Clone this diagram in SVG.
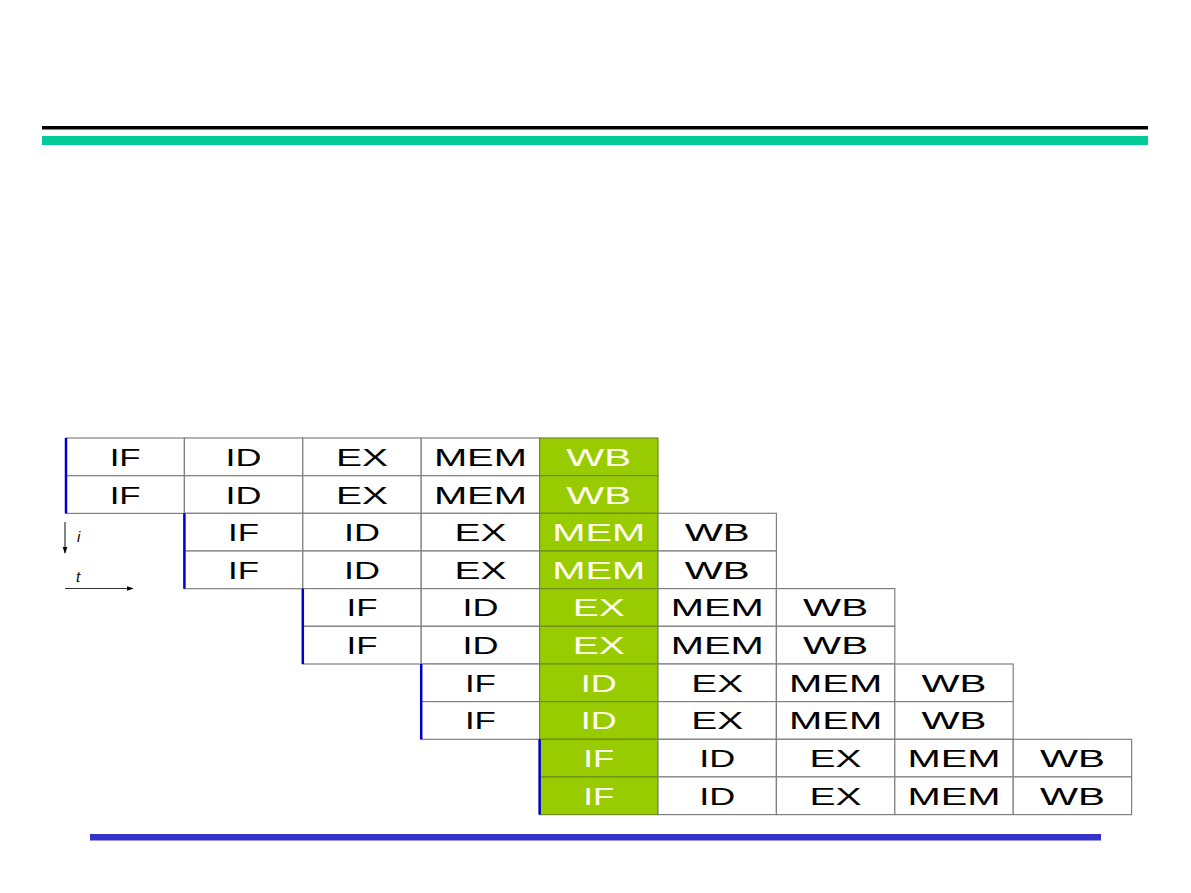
<svg xmlns="http://www.w3.org/2000/svg" width="1191" height="893" viewBox="0 0 1191 893">
<style>
.c{fill:#fff;stroke:#808080;stroke-width:1.2}
.g{fill:#99CC00;stroke:#6f8a20;stroke-width:1.2}
.t{font-family:"Liberation Sans",Arial,sans-serif;font-size:24px;fill:#000;text-anchor:middle}
.w{fill:#fffff0}
.b{stroke:#0000CC;stroke-width:2.5}
.ax{stroke:#333;stroke-width:1.2;fill:none}
.lb{font-family:"Liberation Sans",Arial,sans-serif;font-style:italic;font-size:15px;fill:#000}
</style>
<defs>
<marker id="ah" viewBox="0 0 10 10" refX="9" refY="5" markerWidth="7" markerHeight="7" orient="auto" markerUnits="userSpaceOnUse"><path d="M0,1.5 L10,5 L0,8.5 Z" fill="#000"/></marker>
</defs>
<rect width="1191" height="893" fill="#fff"/>
<g id="header">
<rect x="42" y="126" width="1106" height="3.5" fill="#000"/>
<rect x="42" y="136" width="1106" height="9" fill="#00CC99"/>
</g>
<g id="footer">
<rect x="90" y="834" width="1011" height="6.5" fill="#3333CC"/>
</g>
<g id="pair1">
<rect class="c" x="66" y="438" width="118.4" height="37.7"/><text class="t" x="125.2" y="465.8" textLength="31" lengthAdjust="spacingAndGlyphs">IF</text>
<rect class="c" x="184.4" y="438" width="118.4" height="37.7"/><text class="t" x="243.6" y="465.8" textLength="36" lengthAdjust="spacingAndGlyphs">ID</text>
<rect class="c" x="302.8" y="438" width="118.4" height="37.7"/><text class="t" x="362" y="465.8" textLength="52" lengthAdjust="spacingAndGlyphs">EX</text>
<rect class="c" x="421.2" y="438" width="118.4" height="37.7"/><text class="t" x="480.4" y="465.8" textLength="93" lengthAdjust="spacingAndGlyphs">MEM</text>
<rect class="g" x="539.6" y="438" width="118.4" height="37.7"/><text class="t w" x="598.8" y="465.8" textLength="65" lengthAdjust="spacingAndGlyphs">WB</text>
<rect class="c" x="66" y="475.7" width="118.4" height="37.7"/><text class="t" x="125.2" y="503.5" textLength="31" lengthAdjust="spacingAndGlyphs">IF</text>
<rect class="c" x="184.4" y="475.7" width="118.4" height="37.7"/><text class="t" x="243.6" y="503.5" textLength="36" lengthAdjust="spacingAndGlyphs">ID</text>
<rect class="c" x="302.8" y="475.7" width="118.4" height="37.7"/><text class="t" x="362" y="503.5" textLength="52" lengthAdjust="spacingAndGlyphs">EX</text>
<rect class="c" x="421.2" y="475.7" width="118.4" height="37.7"/><text class="t" x="480.4" y="503.5" textLength="93" lengthAdjust="spacingAndGlyphs">MEM</text>
<rect class="g" x="539.6" y="475.7" width="118.4" height="37.7"/><text class="t w" x="598.8" y="503.5" textLength="65" lengthAdjust="spacingAndGlyphs">WB</text>
<line class="b" x1="66" y1="438" x2="66" y2="513.4"/>
</g>
<g id="pair2">
<rect class="c" x="184.4" y="513.3" width="118.4" height="37.7"/><text class="t" x="243.6" y="541.1" textLength="31" lengthAdjust="spacingAndGlyphs">IF</text>
<rect class="c" x="302.8" y="513.3" width="118.4" height="37.7"/><text class="t" x="362" y="541.1" textLength="36" lengthAdjust="spacingAndGlyphs">ID</text>
<rect class="c" x="421.2" y="513.3" width="118.4" height="37.7"/><text class="t" x="480.4" y="541.1" textLength="52" lengthAdjust="spacingAndGlyphs">EX</text>
<rect class="g" x="539.6" y="513.3" width="118.4" height="37.7"/><text class="t w" x="598.8" y="541.1" textLength="93" lengthAdjust="spacingAndGlyphs">MEM</text>
<rect class="c" x="658" y="513.3" width="118.4" height="37.7"/><text class="t" x="717.2" y="541.1" textLength="65" lengthAdjust="spacingAndGlyphs">WB</text>
<rect class="c" x="184.4" y="551" width="118.4" height="37.7"/><text class="t" x="243.6" y="578.8" textLength="31" lengthAdjust="spacingAndGlyphs">IF</text>
<rect class="c" x="302.8" y="551" width="118.4" height="37.7"/><text class="t" x="362" y="578.8" textLength="36" lengthAdjust="spacingAndGlyphs">ID</text>
<rect class="c" x="421.2" y="551" width="118.4" height="37.7"/><text class="t" x="480.4" y="578.8" textLength="52" lengthAdjust="spacingAndGlyphs">EX</text>
<rect class="g" x="539.6" y="551" width="118.4" height="37.7"/><text class="t w" x="598.8" y="578.8" textLength="93" lengthAdjust="spacingAndGlyphs">MEM</text>
<rect class="c" x="658" y="551" width="118.4" height="37.7"/><text class="t" x="717.2" y="578.8" textLength="65" lengthAdjust="spacingAndGlyphs">WB</text>
<line class="b" x1="184.4" y1="513.3" x2="184.4" y2="588.7"/>
</g>
<g id="pair3">
<rect class="c" x="302.8" y="588.6" width="118.4" height="37.7"/><text class="t" x="362" y="616.4" textLength="31" lengthAdjust="spacingAndGlyphs">IF</text>
<rect class="c" x="421.2" y="588.6" width="118.4" height="37.7"/><text class="t" x="480.4" y="616.4" textLength="36" lengthAdjust="spacingAndGlyphs">ID</text>
<rect class="g" x="539.6" y="588.6" width="118.4" height="37.7"/><text class="t w" x="598.8" y="616.4" textLength="52" lengthAdjust="spacingAndGlyphs">EX</text>
<rect class="c" x="658" y="588.6" width="118.4" height="37.7"/><text class="t" x="717.2" y="616.4" textLength="93" lengthAdjust="spacingAndGlyphs">MEM</text>
<rect class="c" x="776.4" y="588.6" width="118.4" height="37.7"/><text class="t" x="835.6" y="616.4" textLength="65" lengthAdjust="spacingAndGlyphs">WB</text>
<rect class="c" x="302.8" y="626.3" width="118.4" height="37.7"/><text class="t" x="362" y="654.1" textLength="31" lengthAdjust="spacingAndGlyphs">IF</text>
<rect class="c" x="421.2" y="626.3" width="118.4" height="37.7"/><text class="t" x="480.4" y="654.1" textLength="36" lengthAdjust="spacingAndGlyphs">ID</text>
<rect class="g" x="539.6" y="626.3" width="118.4" height="37.7"/><text class="t w" x="598.8" y="654.1" textLength="52" lengthAdjust="spacingAndGlyphs">EX</text>
<rect class="c" x="658" y="626.3" width="118.4" height="37.7"/><text class="t" x="717.2" y="654.1" textLength="93" lengthAdjust="spacingAndGlyphs">MEM</text>
<rect class="c" x="776.4" y="626.3" width="118.4" height="37.7"/><text class="t" x="835.6" y="654.1" textLength="65" lengthAdjust="spacingAndGlyphs">WB</text>
<line class="b" x1="302.8" y1="588.6" x2="302.8" y2="664"/>
</g>
<g id="pair4">
<rect class="c" x="421.2" y="664" width="118.4" height="37.7"/><text class="t" x="480.4" y="691.8" textLength="31" lengthAdjust="spacingAndGlyphs">IF</text>
<rect class="g" x="539.6" y="664" width="118.4" height="37.7"/><text class="t w" x="598.8" y="691.8" textLength="36" lengthAdjust="spacingAndGlyphs">ID</text>
<rect class="c" x="658" y="664" width="118.4" height="37.7"/><text class="t" x="717.2" y="691.8" textLength="52" lengthAdjust="spacingAndGlyphs">EX</text>
<rect class="c" x="776.4" y="664" width="118.4" height="37.7"/><text class="t" x="835.6" y="691.8" textLength="93" lengthAdjust="spacingAndGlyphs">MEM</text>
<rect class="c" x="894.8" y="664" width="118.4" height="37.7"/><text class="t" x="954" y="691.8" textLength="65" lengthAdjust="spacingAndGlyphs">WB</text>
<rect class="c" x="421.2" y="701.6" width="118.4" height="37.7"/><text class="t" x="480.4" y="729.4" textLength="31" lengthAdjust="spacingAndGlyphs">IF</text>
<rect class="g" x="539.6" y="701.6" width="118.4" height="37.7"/><text class="t w" x="598.8" y="729.4" textLength="36" lengthAdjust="spacingAndGlyphs">ID</text>
<rect class="c" x="658" y="701.6" width="118.4" height="37.7"/><text class="t" x="717.2" y="729.4" textLength="52" lengthAdjust="spacingAndGlyphs">EX</text>
<rect class="c" x="776.4" y="701.6" width="118.4" height="37.7"/><text class="t" x="835.6" y="729.4" textLength="93" lengthAdjust="spacingAndGlyphs">MEM</text>
<rect class="c" x="894.8" y="701.6" width="118.4" height="37.7"/><text class="t" x="954" y="729.4" textLength="65" lengthAdjust="spacingAndGlyphs">WB</text>
<line class="b" x1="421.2" y1="664" x2="421.2" y2="739.3"/>
</g>
<g id="pair5">
<rect class="g" x="539.6" y="739.3" width="118.4" height="37.7"/><text class="t w" x="598.8" y="767.1" textLength="31" lengthAdjust="spacingAndGlyphs">IF</text>
<rect class="c" x="658" y="739.3" width="118.4" height="37.7"/><text class="t" x="717.2" y="767.1" textLength="36" lengthAdjust="spacingAndGlyphs">ID</text>
<rect class="c" x="776.4" y="739.3" width="118.4" height="37.7"/><text class="t" x="835.6" y="767.1" textLength="52" lengthAdjust="spacingAndGlyphs">EX</text>
<rect class="c" x="894.8" y="739.3" width="118.4" height="37.7"/><text class="t" x="954" y="767.1" textLength="93" lengthAdjust="spacingAndGlyphs">MEM</text>
<rect class="c" x="1013.2" y="739.3" width="118.4" height="37.7"/><text class="t" x="1072.4" y="767.1" textLength="65" lengthAdjust="spacingAndGlyphs">WB</text>
<rect class="g" x="539.6" y="776.9" width="118.4" height="37.7"/><text class="t w" x="598.8" y="804.7" textLength="31" lengthAdjust="spacingAndGlyphs">IF</text>
<rect class="c" x="658" y="776.9" width="118.4" height="37.7"/><text class="t" x="717.2" y="804.7" textLength="36" lengthAdjust="spacingAndGlyphs">ID</text>
<rect class="c" x="776.4" y="776.9" width="118.4" height="37.7"/><text class="t" x="835.6" y="804.7" textLength="52" lengthAdjust="spacingAndGlyphs">EX</text>
<rect class="c" x="894.8" y="776.9" width="118.4" height="37.7"/><text class="t" x="954" y="804.7" textLength="93" lengthAdjust="spacingAndGlyphs">MEM</text>
<rect class="c" x="1013.2" y="776.9" width="118.4" height="37.7"/><text class="t" x="1072.4" y="804.7" textLength="65" lengthAdjust="spacingAndGlyphs">WB</text>
<line class="b" x1="539.6" y1="739.3" x2="539.6" y2="814.6"/>
</g>
<g id="axes">
<line class="ax" x1="65" y1="522" x2="65" y2="553" marker-end="url(#ah)"/>
<text class="lb" x="77" y="542">i</text>
<line class="ax" x1="65" y1="588.5" x2="133" y2="588.5" marker-end="url(#ah)"/>
<text class="lb" x="76" y="582">t</text>
</g>
</svg>
